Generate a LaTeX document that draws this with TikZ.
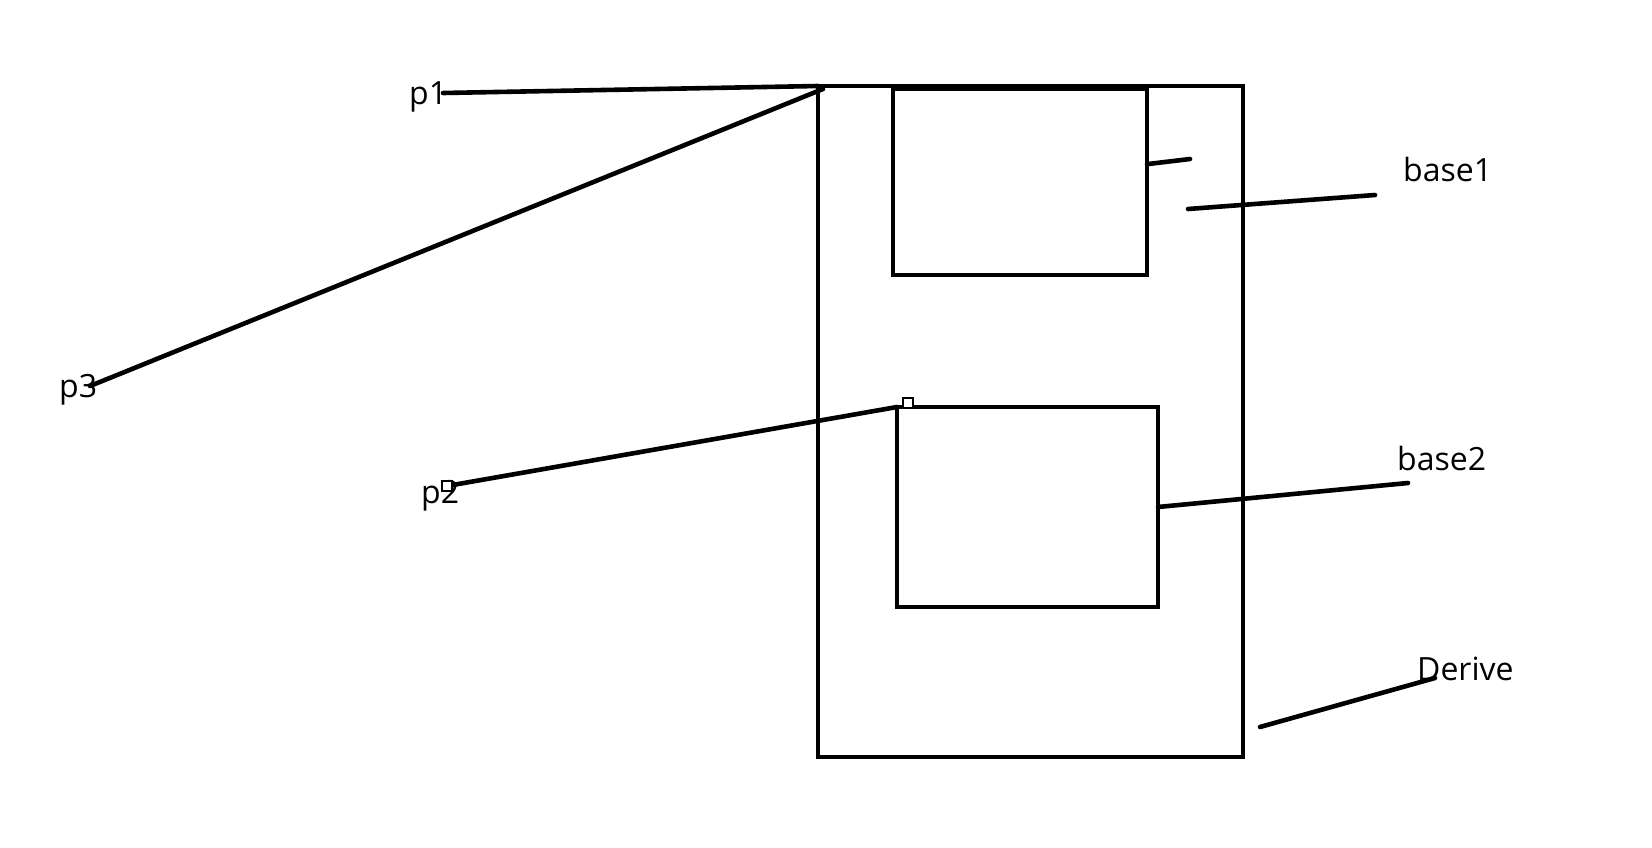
\documentclass[tikz,border=0pt]{standalone}
\usepackage{fontspec}
\setmainfont{Open Sans}
\begin{document}
\begin{tikzpicture}[x=1pt,y=-1pt]
\tikzstyle{frame} = [rectangle, draw=black, line width=4.6pt, outer sep=0pt, inner sep=0pt]
\tikzstyle{tag} = [font=\fontsize{32}{38}\selectfont, inner sep=0pt, anchor=base west]
\tikzstyle{stroke} = [line width=4.6pt, line cap=round]
\tikzstyle{handle} = [rectangle, draw=black, fill=white, line width=1.4pt, minimum size=10pt, inner sep=0pt]
\useasboundingbox (0,0) rectangle (1652,848);
% boxes
\node (derive) [frame, minimum width=425pt, minimum height=671pt] at (1030.5,421.5) {};
\node (box1) [frame, minimum width=254pt, minimum height=186pt] at (1020,182) {};
\node (box2) [frame, minimum width=261pt, minimum height=200pt] at (1027.5,507) {};
% labels
\node (p1) [tag] at (409,105) {p1};
\node (p3) [tag] at (59,397) {p3};
\node (p2) [tag] at (421,503) {p2};
\node (base1) [tag] at (1403,182) {base1};
\node (base2) [tag] at (1397,470) {base2};
\node (Derive) [tag] at (1417,680) {Derive};
% free ends
\coordinate (p1tip) at (443,93);
\coordinate (p3tip) at (90,386);
\coordinate (p2tip) at (447,486);
\coordinate (tick) at (1190,159);
\coordinate (b1in) at (1188,209);
\coordinate (b1tip) at (1375,195);
\coordinate (b2tip) at (1408,483);
\coordinate (din) at (1260,727);
\coordinate (dtip) at (1435,678);
\draw [stroke] (p1tip) -- (derive.north west);
\draw [stroke] (p3tip) -- ([xshift=5pt,yshift=-3pt]derive.north west);
\draw [stroke] (p2tip) -- (box2.north west);
\draw [stroke] (box1.8.5) -- (tick);
\draw [stroke] (b1in) -- (b1tip);
\draw [stroke] (box2.east) -- (b2tip);
\draw [stroke] (din) -- (dtip);
% handles
\node (h1) [handle] at (p2tip) {};
\node (h2) [handle] at (908,403) {};
\end{tikzpicture}
\end{document}
